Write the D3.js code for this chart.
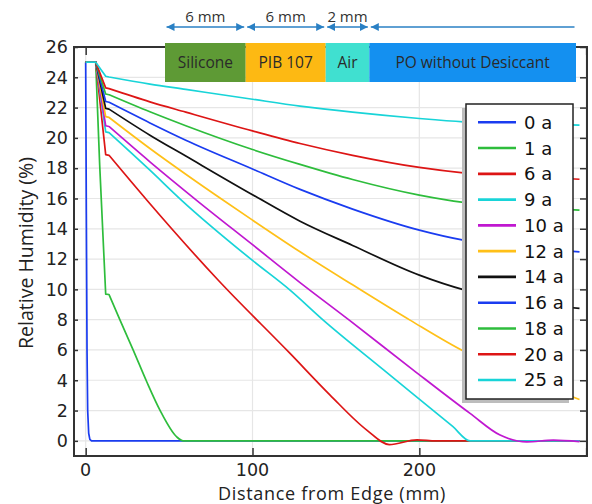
<!DOCTYPE html>
<html>
<head>
<meta charset="utf-8">
<script src="https://cdn.jsdelivr.net/npm/d3@7"></script>
<style>
  body { margin: 0; background: #fff; }
  svg { display: block; }
</style>
</head>
<body>
<div id="chart"></div>
<script>
// legend labels, in draw order
const yearLabels = ["0 a", "1 a", "6 a", "9 a", "10 a", "12 a", "14 a", "16 a", "18 a", "20 a", "25 a"];

// relative humidity (%) vs distance from edge (mm), one array per year
const rh0 = [[0,25],[0.4,15],[0.8,6],[1.2,2],[1.8,0.5],[2.5,0.1],[3.5,0],[296,0]];
const rh1 = [[0,25],[6,25],[8.4,18.2],[12,9.68],[14,9.66],[20.6,7.97],[28.5,5.99],[36.6,3.9],[44.5,2.03],[54.6,0.26],[58.5,0],[296,0]];
const rh6 = [[0,25],[6,25],[12,18.9],[14,18.85],[36.6,15.9],[79.5,10.6],[122.5,5.77],[146.5,3.02],[168.5,0.71],[182,-0.25],[198.6,0.07],[210,0],[296,0]];
const rh9 = [[0,25],[6,25],[12,20.4],[14,20.35],[38.5,17.87],[57.5,15.88],[100,11.91],[122.5,9.95],[142.4,7.97],[178.4,4.7],[220,0.95],[230.4,0],[296,0]];
const rh10 = [[0,25],[6,25],[12,20.8],[14,20.75],[38.5,18.42],[66.5,15.88],[100,12.95],[128.5,10.45],[158,7.97],[196.4,4.67],[230.4,1.81],[248.4,0.38],[264.4,-0.07],[280.3,0.05],[296,-0.05]];
const rh12 = [[0,25],[6,25],[12,21.4],[14,21.35],[38.5,19.3],[60,17.6],[82.5,15.88],[100,14.57],[128.5,12.48],[160,10.3],[194.4,7.97],[227.4,5.87],[260,4.3],[296,2.73]];
const rh14 = [[0,25],[6,25],[12,21.95],[14,21.9],[38.5,20.18],[60,18.8],[100,16.25],[128.5,14.5],[160,12.9],[200,10.94],[227.4,9.95],[260,9.2],[296,8.74]];
const rh16 = [[0,25],[6,25],[12,22.4],[14,22.35],[38.5,20.99],[60,19.85],[100,17.95],[128.5,16.6],[160,15.3],[200,13.91],[226.4,13.25],[260,12.8],[296,12.48]];
const rh18 = [[0,25],[6,25],[12,22.9],[14,22.85],[38.5,21.72],[60,20.8],[100,19.23],[128.5,18.25],[160,17.25],[200,16.22],[226.4,15.74],[260,15.45],[296,15.23]];
const rh20 = [[0,25],[6,25],[12,23.3],[14,23.25],[38.5,22.38],[60,21.7],[100,20.46],[128.5,19.63],[160,18.85],[200,18.05],[226.4,17.69],[260,17.45],[296,17.27]];
const rh25 = [[0,25],[6,25],[12,24.07],[14,24.02],[38.5,23.55],[60,23.2],[100,22.55],[128.5,22.1],[160,21.7],[200,21.28],[226.4,21.06],[260,20.93],[296,20.84]];
const allSeries = [rh0, rh1, rh6, rh9, rh10, rh12, rh14, rh16, rh18, rh20, rh25];

// axis ticks
const yTicks = [0, 2, 4, 6, 8, 10, 12, 14, 16, 18, 20, 22, 24, 26];
const xTicks = [0, 100, 200, 300];
const xTickLabels = ["0", "100", "200", ""];

// layer schematic at the top
const layerNames = ["Silicone", "PIB 107", "Air", "PO without Desiccant"];
const layerDims = ["6 mm", "6 mm", "2 mm", ""];

// comsol-ish colour cycle
const palette = ["#1a3cf0", "#2ebd3c", "#dd1515", "#18d4d8", "#c018d0", "#ffc018", "#111111"];
const layerColors = ["#5e9a35", "#fdb913", "#40e0d0", "#1490f0"];

const W = 592, H = 504;
const plotL = 74, plotR = 587, plotT = 47, plotB = 456;
const poStart = 14; // sharp layer kinks before this, smooth diffusion profile after

const svg = d3.select("#chart").append("svg")
    .attr("width", W)
    .attr("height", H);

svg.append("rect").attr("width", W).attr("height", H).attr("fill", "#fff");

const x = d3.scaleLinear().domain([-7, 300.5]).range([plotL, plotR]);
const y = d3.scaleLinear().domain([-1, 26]).range([plotB, plotT]);

// grid
svg.append("g")
  .selectAll("line")
  .data(yTicks)
  .join("line")
    .attr("x1", plotL).attr("x2", plotR)
    .attr("y1", d => y(d)).attr("y2", d => y(d))
    .attr("stroke", "#e6e6e6").attr("stroke-width", 1.2);

svg.append("g")
  .selectAll("line")
  .data(xTicks)
  .join("line")
    .attr("x1", d => x(d)).attr("x2", d => x(d))
    .attr("y1", plotT).attr("y2", plotB)
    .attr("stroke", "#e6e6e6").attr("stroke-width", 1.2);

// curves
svg.append("clipPath").attr("id", "plotclip")
  .append("rect")
    .attr("x", plotL).attr("y", plotT)
    .attr("width", plotR - plotL).attr("height", plotB - plotT);

const lineSharp = d3.line()
    .x(d => x(d[0]))
    .y(d => y(d[1]));
const lineSmooth = d3.line()
    .x(d => x(d[0]))
    .y(d => y(d[1]))
    .curve(d3.curveMonotoneX);

// linear through the layers, monotone through the PO part
function seriesPath(pts) {
  let k = 0;
  pts.forEach((p, i) => { if (p[0] <= poStart) k = i; });
  const head = pts.slice(0, k + 1);
  const tail = pts.slice(k);
  return lineSharp(head) + lineSmooth(tail).replace(/^M/, "L");
}

svg.append("g")
    .attr("clip-path", "url(#plotclip)")
  .selectAll("path")
  .data(allSeries)
  .join("path")
    .attr("d", seriesPath)
    .attr("fill", "none")
    .attr("stroke", (d, i) => palette[i % palette.length])
    .attr("stroke-width", 1.7)
    .attr("stroke-linejoin", "round");

// axes: inward ticks, boxed frame
const axisColor = "#333";

const yLeft = svg.append("g")
    .attr("transform", `translate(${plotL},0)`)
    .call(d3.axisRight(y).tickValues(yTicks).tickSize(4).tickFormat(""));
const yRight = svg.append("g")
    .attr("transform", `translate(${plotR},0)`)
    .call(d3.axisLeft(y).tickValues(yTicks).tickSize(7).tickFormat(""));
const xBottom = svg.append("g")
    .attr("transform", `translate(0,${plotB})`)
    .call(d3.axisTop(x).tickValues(xTicks).tickSize(8).tickFormat(""));
const xTop = svg.append("g")
    .attr("transform", `translate(0,${plotT})`)
    .call(d3.axisBottom(x).tickValues(xTicks).tickSize(8).tickFormat(""));

[yLeft, yRight, xBottom, xTop].forEach(g => {
  g.select(".domain").remove();
  g.selectAll("line").attr("stroke", axisColor).attr("stroke-width", 1.5);
});

svg.append("rect")
    .attr("x", plotL).attr("y", plotT)
    .attr("width", plotR - plotL).attr("height", plotB - plotT)
    .attr("fill", "none")
    .attr("stroke", axisColor)
    .attr("stroke-width", 2);

// tick labels
svg.append("g")
  .selectAll("text")
  .data(yTicks)
  .join("text")
    .attr("x", 68)
    .attr("y", d => y(d))
    .attr("dy", "0.36em")
    .attr("text-anchor", "end")
    .style("font-family", "DejaVu Sans, sans-serif")
    .style("font-size", "17.5px")
    .attr("fill", "#222")
    .text(d => d);

svg.append("g")
  .selectAll("text")
  .data(xTicks)
  .join("text")
    .attr("x", d => x(d))
    .attr("y", 476)
    .attr("text-anchor", "middle")
    .style("font-family", "DejaVu Sans, sans-serif")
    .style("font-size", "17.5px")
    .attr("fill", "#222")
    .text((d, i) => xTickLabels[i]);

// axis titles
svg.append("text")
    .attr("x", 332)
    .attr("y", 499.5)
    .attr("text-anchor", "middle")
    .style("font-family", "Open Sans, sans-serif")
    .style("font-size", "18px")
    .style("letter-spacing", "0.7px")
    .attr("fill", "#222")
    .text("Distance from Edge (mm)");

svg.append("text")
    .attr("transform", "translate(33,253) rotate(-90)")
    .attr("text-anchor", "middle")
    .style("font-family", "Open Sans, sans-serif")
    .style("font-size", "19.5px")
    .attr("fill", "#222")
    .text("Relative Humidity (%)");

// legend
const legX = 466, legY = 104, legW = 107, legH = 295, rowH = 25.77;
svg.append("rect")
    .attr("x", legX - 4).attr("y", legY + 4)
    .attr("width", legW).attr("height", legH)
    .attr("fill", "#bdbdbd");
svg.append("rect")
    .attr("x", legX).attr("y", legY)
    .attr("width", legW).attr("height", legH)
    .attr("fill", "#fff")
    .attr("stroke", "#222")
    .attr("stroke-width", 1.5);

const legRows = svg.append("g")
  .selectAll("g")
  .data(yearLabels)
  .join("g")
    .attr("transform", (d, i) => `translate(${legX},${legY + 18.3 + i * rowH})`);

legRows.append("line")
    .attr("x1", 12).attr("x2", 50)
    .attr("stroke", (d, i) => palette[i % palette.length])
    .attr("stroke-width", 2.6);

legRows.append("text")
    .attr("x", 58)
    .attr("dy", "0.36em")
    .style("font-family", "DejaVu Sans, sans-serif")
    .style("font-size", "18px")
    .attr("fill", "#111")
    .text(d => d);

// layer schematic bar with dimension arrows
const layerEdges = [165, 245.7, 325.7, 369.3, 576];
const barTop = 43, barH = 39, arrowY = 27;
const blueArrow = "#2a80c4";

const defs = svg.append("defs");
defs.append("marker")
    .attr("id", "ahead")
    .attr("viewBox", "0 0 10 10")
    .attr("refX", 10).attr("refY", 5)
    .attr("markerWidth", 8).attr("markerHeight", 8)
    .attr("markerUnits", "userSpaceOnUse")
    .attr("orient", "auto-start-reverse")
  .append("path")
    .attr("d", "M0,0 L10,5 L0,10 z")
    .attr("fill", blueArrow);

const layers = svg.append("g")
  .selectAll("g")
  .data(layerNames)
  .join("g");

layers.append("rect")
    .attr("x", (d, i) => layerEdges[i])
    .attr("y", barTop)
    .attr("width", (d, i) => layerEdges[i + 1] - layerEdges[i])
    .attr("height", barH)
    .attr("fill", (d, i) => layerColors[i]);

layers.append("text")
    .attr("x", (d, i) => (layerEdges[i] + layerEdges[i + 1]) / 2)
    .attr("y", barTop + barH / 2)
    .attr("dy", "0.36em")
    .attr("text-anchor", "middle")
    .style("font-family", "Open Sans, sans-serif")
    .style("font-size", "15.5px")
    .attr("fill", "#2a2a2a")
    .text(d => d);

layers.append("line")
    .attr("x1", (d, i) => layerEdges[i] + 1.5)
    .attr("x2", (d, i) => layerEdges[i + 1] - 1.5)
    .attr("y1", arrowY).attr("y2", arrowY)
    .attr("stroke", blueArrow)
    .attr("stroke-width", 1.4)
    .attr("marker-start", "url(#ahead)")
    .attr("marker-end", (d, i) => i < 3 ? "url(#ahead)" : null);

layers.append("text")
    .attr("x", (d, i) => (layerEdges[i] + layerEdges[i + 1]) / 2)
    .attr("y", 22)
    .attr("text-anchor", "middle")
    .style("font-family", "Open Sans, sans-serif")
    .style("font-size", "15px")
    .attr("fill", "#333")
    .text((d, i) => layerDims[i]);
</script>
</body>
</html>
